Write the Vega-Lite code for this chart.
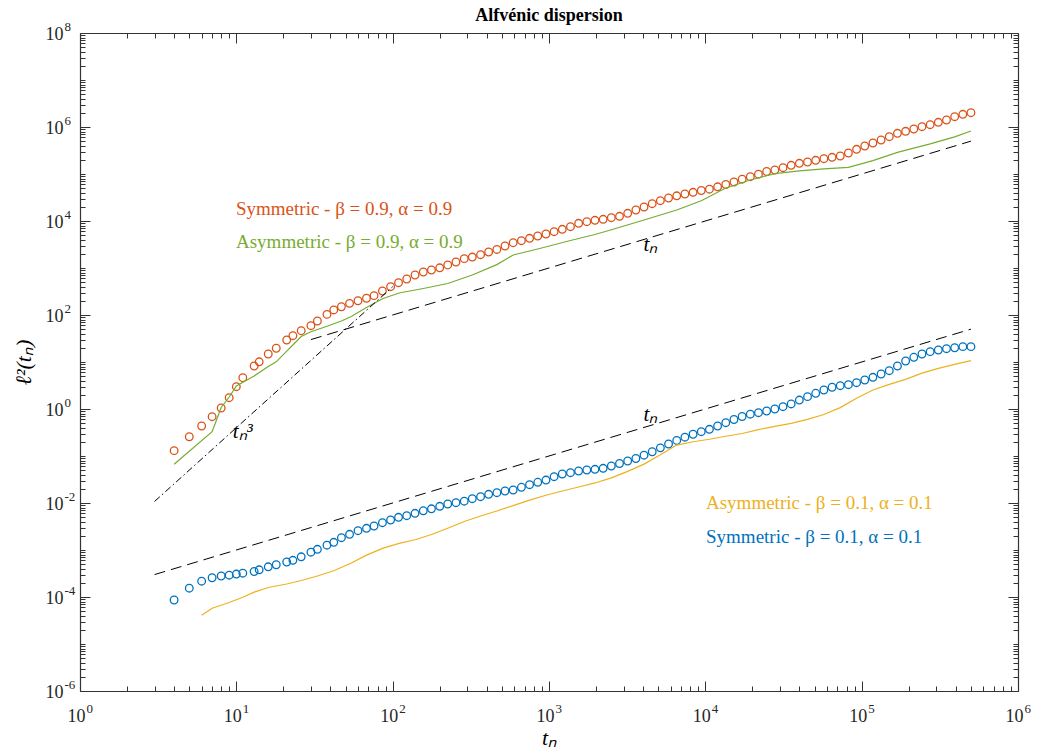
{
  "$schema": "https://vega.github.io/schema/vega-lite/v6.json",
  "width": 938,
  "height": 658,
  "autosize": {"type": "none"},
  "padding": {"left": 80, "top": 33, "right": 28, "bottom": 60},
  "background": "white",
  "title": {"text": "Alfvénic dispersion", "font": "Liberation Serif", "fontSize": 18, "fontWeight": "bold", "color": "#000000", "anchor": "middle", "baseline": "alphabetic", "offset": -19},
  "config": {
    "view": {"stroke": null},
    "axis": {"grid": false, "labelFont": "Liberation Serif", "titleFont": "Liberation Serif", "domainColor": "#333333", "domainWidth": 1.2, "tickColor": "#333333", "tickWidth": 1, "labelColor": "#262626", "titleColor": "#000000", "labelFlush": false, "labelOverlap": false, "labelBound": false}
  },
  "datasets": {
    "sym09": [
      {"t":4,"v":0.130},{"t":5,"v":0.257},{"t":6,"v":0.435},{"t":7,"v":0.686},{"t":8,"v":1.05},{"t":9,"v":1.74},{"t":10,"v":2.98},{"t":11,"v":4.63},{"t":13,"v":8.22},{"t":14,"v":10.1},{"t":16,"v":14.8},{"t":18,"v":19.6},{"t":21,"v":29.4},{"t":23,"v":36.3},{"t":26,"v":46.3},{"t":30,"v":59.2},{"t":33,"v":74.5},{"t":38,"v":103},{"t":42,"v":128},{"t":47,"v":150},{"t":53,"v":177},{"t":60,"v":201},{"t":68,"v":227},{"t":76,"v":258},{"t":86,"v":324},{"t":97,"v":400},{"t":109,"v":487},{"t":123,"v":583},{"t":139,"v":710},{"t":157,"v":822},{"t":177,"v":906},{"t":200,"v":1010},{"t":225,"v":1160},{"t":254,"v":1340},{"t":287,"v":1580},{"t":323,"v":1710},{"t":365,"v":1920},{"t":411,"v":2190},{"t":464,"v":2480},{"t":523,"v":2940},{"t":590,"v":3450},{"t":666,"v":3810},{"t":751,"v":4280},{"t":847,"v":4800},{"t":956,"v":5290},{"t":1078,"v":5920},{"t":1216,"v":6660},{"t":1372,"v":7570},{"t":1547,"v":8930},{"t":1745,"v":9660},{"t":1968,"v":10350},{"t":2220,"v":10870},{"t":2504,"v":11750},{"t":2825,"v":12590},{"t":3186,"v":14590},{"t":3594,"v":17140},{"t":4054,"v":19860},{"t":4572,"v":23350},{"t":5157,"v":27040},{"t":5817,"v":30850},{"t":6562,"v":34360},{"t":7401,"v":37500},{"t":8348,"v":40820},{"t":9417,"v":44570},{"t":10621,"v":47530},{"t":11980,"v":53450},{"t":13513,"v":59840},{"t":15242,"v":67610},{"t":17193,"v":77480},{"t":19393,"v":87660},{"t":21874,"v":99080},{"t":24673,"v":113000},{"t":27830,"v":121600},{"t":31392,"v":136100},{"t":35408,"v":153100},{"t":39939,"v":169000},{"t":45049,"v":179900},{"t":50813,"v":195600},{"t":57315,"v":211700},{"t":64648,"v":226600},{"t":72920,"v":241500},{"t":82250,"v":279900},{"t":92774,"v":335600},{"t":104645,"v":394300},{"t":118034,"v":457000},{"t":133137,"v":528600},{"t":150171,"v":622000},{"t":169386,"v":734400},{"t":191059,"v":810400},{"t":215505,"v":906000},{"t":243080,"v":1014000},{"t":274182,"v":1119000},{"t":309264,"v":1259000},{"t":348835,"v":1409000},{"t":393469,"v":1656000},{"t":443814,"v":1862000},{"t":500000,"v":2014000}
    ],
    "asym09": [
      {"t":4,"v":0.0666},{"t":7,"v":0.329},{"t":8,"v":1.08},{"t":9,"v":1.80},{"t":10,"v":3.09},{"t":13,"v":5.04},{"t":16,"v":8.0},{"t":18,"v":10.1},{"t":21,"v":17.1},{"t":23,"v":23.0},{"t":26,"v":34.9},{"t":30,"v":44.1},{"t":38,"v":57.5},{"t":47,"v":74.5},{"t":54,"v":92.0},{"t":68,"v":144},{"t":86,"v":222},{"t":110,"v":294},{"t":157,"v":366},{"t":225,"v":468},{"t":323,"v":710},{"t":464,"v":1180},{"t":590,"v":1890},{"t":847,"v":2540},{"t":1372,"v":3850},{"t":1968,"v":5160},{"t":2504,"v":6500},{"t":4054,"v":10500},{"t":6562,"v":17140},{"t":9417,"v":27040},{"t":13513,"v":50350},{"t":19393,"v":74500},{"t":27830,"v":101500},{"t":39939,"v":117000},{"t":57315,"v":128500},{"t":82250,"v":138900},{"t":118034,"v":192800},{"t":169386,"v":288400},{"t":215505,"v":354000},{"t":274182,"v":436900},{"t":393469,"v":618600},{"t":500000,"v":822000}
    ],
    "sym01": [
      {"t":4,"v":8.63e-5},{"t":5,"v":1.54e-4},{"t":6,"v":2.17e-4},{"t":7,"v":2.57e-4},{"t":8,"v":2.80e-4},{"t":9,"v":2.91e-4},{"t":10,"v":3.08e-4},{"t":11,"v":3.21e-4},{"t":13,"v":3.49e-4},{"t":14,"v":3.79e-4},{"t":16,"v":4.39e-4},{"t":18,"v":4.86e-4},{"t":21,"v":5.56e-4},{"t":23,"v":6.04e-4},{"t":26,"v":7.16e-4},{"t":30,"v":8.98e-4},{"t":33,"v":1.035e-3},{"t":38,"v":1.265e-3},{"t":42,"v":1.459e-3},{"t":47,"v":1.827e-3},{"t":53,"v":2.158e-3},{"t":60,"v":2.576e-3},{"t":68,"v":2.897e-3},{"t":76,"v":3.24e-3},{"t":86,"v":3.81e-3},{"t":97,"v":4.35e-3},{"t":109,"v":4.96e-3},{"t":123,"v":5.37e-3},{"t":139,"v":6.04e-3},{"t":157,"v":6.83e-3},{"t":177,"v":7.53e-3},{"t":200,"v":8.51e-3},{"t":225,"v":9.52e-3},{"t":254,"v":1.015e-2},{"t":287,"v":1.092e-2},{"t":323,"v":1.234e-2},{"t":365,"v":1.362e-2},{"t":411,"v":1.531e-2},{"t":464,"v":1.656e-2},{"t":523,"v":1.80e-2},{"t":590,"v":1.89e-2},{"t":666,"v":2.16e-2},{"t":751,"v":2.45e-2},{"t":847,"v":2.76e-2},{"t":956,"v":3.08e-2},{"t":1078,"v":3.63e-2},{"t":1216,"v":4.14e-2},{"t":1372,"v":4.41e-2},{"t":1547,"v":4.80e-2},{"t":1745,"v":5.04e-2},{"t":1968,"v":5.21e-2},{"t":2220,"v":5.47e-2},{"t":2504,"v":6.12e-2},{"t":2825,"v":6.92e-2},{"t":3186,"v":7.83e-2},{"t":3594,"v":8.85e-2},{"t":4054,"v":0.104},{"t":4572,"v":0.123},{"t":5157,"v":0.149},{"t":5817,"v":0.180},{"t":6562,"v":0.214},{"t":7401,"v":0.251},{"t":8348,"v":0.290},{"t":9417,"v":0.329},{"t":10621,"v":0.370},{"t":11980,"v":0.435},{"t":13513,"v":0.511},{"t":15242,"v":0.598},{"t":17193,"v":0.692},{"t":19393,"v":0.775},{"t":21874,"v":0.834},{"t":24673,"v":0.906},{"t":27830,"v":1.00},{"t":31392,"v":1.12},{"t":35408,"v":1.28},{"t":39939,"v":1.55},{"t":45049,"v":1.83},{"t":50813,"v":2.16},{"t":57315,"v":2.54},{"t":64648,"v":2.90},{"t":72920,"v":3.13},{"t":82250,"v":3.29},{"t":92774,"v":3.63},{"t":104645,"v":4.14},{"t":118034,"v":4.72},{"t":133137,"v":5.56},{"t":150171,"v":6.53},{"t":169386,"v":8.22},{"t":191059,"v":10.5},{"t":215505,"v":12.6},{"t":243080,"v":14.8},{"t":274182,"v":16.6},{"t":309264,"v":18.0},{"t":348835,"v":19.2},{"t":393469,"v":20.1},{"t":443814,"v":21.2},{"t":500000,"v":21.2}
    ],
    "asym01": [
      {"t":6,"v":4.10e-5},{"t":7,"v":5.75e-5},{"t":9,"v":7.64e-5},{"t":11,"v":9.86e-5},{"t":13,"v":1.27e-4},{"t":16,"v":1.59e-4},{"t":21,"v":1.89e-4},{"t":26,"v":2.24e-4},{"t":33,"v":2.80e-4},{"t":42,"v":3.61e-4},{"t":54,"v":5.21e-4},{"t":68,"v":7.79e-4},{"t":87,"v":1.097e-3},{"t":110,"v":1.38e-3},{"t":141,"v":1.67e-3},{"t":179,"v":2.16e-3},{"t":229,"v":2.98e-3},{"t":290,"v":4.08e-3},{"t":365,"v":5.29e-3},{"t":464,"v":6.76e-3},{"t":590,"v":8.81e-3},{"t":751,"v":1.153e-2},{"t":956,"v":1.46e-2},{"t":1216,"v":1.80e-2},{"t":1547,"v":2.19e-2},{"t":1968,"v":2.67e-2},{"t":2504,"v":3.42e-2},{"t":3186,"v":4.70e-2},{"t":4054,"v":6.72e-2},{"t":5157,"v":0.1066},{"t":6562,"v":0.171},{"t":8348,"v":0.201},{"t":10621,"v":0.227},{"t":13513,"v":0.263},{"t":17193,"v":0.301},{"t":21874,"v":0.365},{"t":27830,"v":0.426},{"t":35408,"v":0.496},{"t":45049,"v":0.601},{"t":57315,"v":0.764},{"t":72920,"v":1.07},{"t":92774,"v":1.69},{"t":118034,"v":2.54},{"t":150171,"v":3.34},{"t":191059,"v":4.28},{"t":243080,"v":5.81},{"t":309264,"v":7.31},{"t":393469,"v":8.93},{"t":500000,"v":10.7}
    ],
    "dashed": [
      {"line":"lower","t":3,"v":3e-4},{"line":"lower","t":500000,"v":50},
      {"line":"upper","t":30,"v":30},{"line":"upper","t":500000,"v":500000}
    ],
    "dashdot": [
      {"t":3,"v":0.0108},{"t":100,"v":400}
    ],
    "legend": [
      {"t":9.95,"v":17990,"text":"Symmetric - β = 0.9, α = 0.9","series":"sym09"},
      {"t":9.95,"v":3660,"text":"Asymmetric - β = 0.9, α = 0.9","series":"asym09"},
      {"t":10100,"v":0.00976,"text":"Asymmetric - β = 0.1, α = 0.1","series":"asym01"},
      {"t":10100,"v":0.00189,"text":"Symmetric - β = 0.1, α = 0.1","series":"sym01"}
    ],
    "refLabels": [
      {"t":4450,"v":3085,"text":"tₙ"},
      {"t":4450,"v":0.745,"text":"tₙ"},
      {"t":11.0,"v":0.324,"text":"tₙ³"}
    ]
  },
  "resolve": {"axis": {"x": "independent", "y": "independent"}},
  "layer": [
    {
      "data": {"name": "sym09"},
      "mark": {"type": "point", "shape": "circle", "filled": false, "color": "#D95319", "size": 58, "strokeWidth": 1.3, "opacity": 1},
      "encoding": {
        "x": {"field": "t", "type": "quantitative", "scale": {"type": "log", "domain": [1, 1000000], "nice": false},
          "axis": {"orient": "bottom", "values": [1, 10, 100, 1000, 10000, 100000, 1000000], "labelExpr": "'10'", "tickSize": -10, "labelPadding": 40.5, "labelBaseline": "alphabetic", "labelAlign": "center", "labelOffset": -4, "labelFontSize": 18, "title": "tₙ", "titleFontSize": 22, "titleFontStyle": "italic", "titleFontWeight": "normal", "titleX": 469, "titleY": 53, "titleBaseline": "alphabetic", "titleAlign": "center", "titleAnchor": null}},
        "y": {"field": "v", "type": "quantitative", "scale": {"type": "log", "domain": [0.000001, 100000000], "nice": false},
          "axis": {"orient": "left", "values": [0.000001, 0.0001, 0.01, 1, 100, 10000, 1000000, 100000000], "labelExpr": "'10'", "tickSize": -10, "labelPadding": 27, "labelAlign": "right", "labelBaseline": "middle", "labelOffset": 1, "labelFontSize": 18, "title": "ℓ²(tₙ)", "titleFontSize": 22, "titleFontStyle": "italic", "titleFontWeight": "normal", "titleAngle": -90, "titleX": -50, "titleY": 329, "titleBaseline": "alphabetic", "titleAlign": "center"}}
      }
    },
    {
      "data": {"name": "asym09"},
      "mark": {"type": "line", "color": "#77AC30", "strokeWidth": 1.2},
      "encoding": {
        "x": {"field": "t", "type": "quantitative", "scale": {"type": "log", "domain": [1, 1000000], "nice": false},
          "axis": {"orient": "top", "values": [1, 10, 100, 1000, 10000, 100000, 1000000], "labels": false, "tickSize": -10, "title": null}},
        "y": {"field": "v", "type": "quantitative", "scale": {"type": "log", "domain": [0.000001, 100000000], "nice": false},
          "axis": {"orient": "right", "values": [0.000001, 0.0001, 0.01, 1, 100, 10000, 1000000, 100000000], "labels": false, "tickSize": -10, "title": null}}
      }
    },
    {
      "data": {"name": "sym01"},
      "mark": {"type": "point", "shape": "circle", "filled": false, "color": "#0072BD", "size": 58, "strokeWidth": 1.3, "opacity": 1},
      "encoding": {
        "x": {"field": "t", "type": "quantitative", "scale": {"type": "log", "domain": [1, 1000000], "nice": false},
          "axis": {"orient": "bottom", "values": [2,3,4,5,6,7,8,9,20,30,40,50,60,70,80,90,200,300,400,500,600,700,800,900,2000,3000,4000,5000,6000,7000,8000,9000,20000,30000,40000,50000,60000,70000,80000,90000,200000,300000,400000,500000,600000,700000,800000,900000], "labels": false, "domain": false, "tickSize": -5, "title": null}},
        "y": {"field": "v", "type": "quantitative", "scale": {"type": "log", "domain": [0.000001, 100000000], "nice": false},
          "axis": {"orient": "left", "values": [2e-6,3e-6,4e-6,5e-6,6e-6,7e-6,8e-6,9e-6,1e-5,2e-5,3e-5,4e-5,5e-5,6e-5,7e-5,8e-5,9e-5,2e-4,3e-4,4e-4,5e-4,6e-4,7e-4,8e-4,9e-4,1e-3,2e-3,3e-3,4e-3,5e-3,6e-3,7e-3,8e-3,9e-3,0.02,0.03,0.04,0.05,0.06,0.07,0.08,0.09,0.1,0.2,0.3,0.4,0.5,0.6,0.7,0.8,0.9,2,3,4,5,6,7,8,9,10,20,30,40,50,60,70,80,90,200,300,400,500,600,700,800,900,1000,2000,3000,4000,5000,6000,7000,8000,9000,20000,30000,40000,50000,60000,70000,80000,90000,100000,200000,300000,400000,500000,600000,700000,800000,900000,2000000,3000000,4000000,5000000,6000000,7000000,8000000,9000000,10000000,20000000,30000000,40000000,50000000,60000000,70000000,80000000,90000000], "labels": false, "domain": false, "tickSize": -5, "title": null}}
      }
    },
    {
      "data": {"name": "asym01"},
      "mark": {"type": "line", "color": "#EDB120", "strokeWidth": 1.2},
      "encoding": {
        "x": {"field": "t", "type": "quantitative", "scale": {"type": "log", "domain": [1, 1000000], "nice": false},
          "axis": {"orient": "top", "values": [2,3,4,5,6,7,8,9,20,30,40,50,60,70,80,90,200,300,400,500,600,700,800,900,2000,3000,4000,5000,6000,7000,8000,9000,20000,30000,40000,50000,60000,70000,80000,90000,200000,300000,400000,500000,600000,700000,800000,900000], "labels": false, "domain": false, "tickSize": -5, "title": null}},
        "y": {"field": "v", "type": "quantitative", "scale": {"type": "log", "domain": [0.000001, 100000000], "nice": false},
          "axis": {"orient": "right", "values": [2e-6,3e-6,4e-6,5e-6,6e-6,7e-6,8e-6,9e-6,1e-5,2e-5,3e-5,4e-5,5e-5,6e-5,7e-5,8e-5,9e-5,2e-4,3e-4,4e-4,5e-4,6e-4,7e-4,8e-4,9e-4,1e-3,2e-3,3e-3,4e-3,5e-3,6e-3,7e-3,8e-3,9e-3,0.02,0.03,0.04,0.05,0.06,0.07,0.08,0.09,0.1,0.2,0.3,0.4,0.5,0.6,0.7,0.8,0.9,2,3,4,5,6,7,8,9,10,20,30,40,50,60,70,80,90,200,300,400,500,600,700,800,900,1000,2000,3000,4000,5000,6000,7000,8000,9000,20000,30000,40000,50000,60000,70000,80000,90000,100000,200000,300000,400000,500000,600000,700000,800000,900000,2000000,3000000,4000000,5000000,6000000,7000000,8000000,9000000,10000000,20000000,30000000,40000000,50000000,60000000,70000000,80000000,90000000], "labels": false, "domain": false, "tickSize": -5, "title": null}}
      }
    },
    {
      "data": {"name": "dashed"},
      "mark": {"type": "line", "color": "#000000", "strokeWidth": 1, "strokeDash": [11, 6]},
      "encoding": {
        "detail": {"field": "line", "type": "nominal"},
        "x": {"field": "t", "type": "quantitative", "scale": {"type": "log", "domain": [1, 1000000], "nice": false},
          "axis": {"orient": "bottom", "values": [1, 10, 100, 1000, 10000, 100000, 1000000], "labelExpr": "'' + round(log(datum.value) / LN10)", "tickSize": -10, "tickOpacity": 0, "domain": false, "labelPadding": 31, "labelBaseline": "alphabetic", "labelAlign": "left", "labelOffset": 6, "labelFontSize": 13, "title": null}},
        "y": {"field": "v", "type": "quantitative", "scale": {"type": "log", "domain": [0.000001, 100000000], "nice": false},
          "axis": {"orient": "left", "values": [0.000001, 0.0001, 0.01, 1, 100, 10000, 1000000, 100000000], "labelExpr": "'' + round(log(datum.value) / LN10)", "tickSize": -10, "tickOpacity": 0, "domain": false, "labelPadding": 26, "labelAlign": "left", "labelBaseline": "middle", "labelOffset": -7, "labelFontSize": 13, "title": null}}
      }
    },
    {
      "data": {"name": "dashdot"},
      "mark": {"type": "line", "color": "#000000", "strokeWidth": 1, "strokeDash": [7, 3, 1.5, 3]},
      "encoding": {
        "x": {"field": "t", "type": "quantitative", "scale": {"type": "log", "domain": [1, 1000000], "nice": false}, "axis": null},
        "y": {"field": "v", "type": "quantitative", "scale": {"type": "log", "domain": [0.000001, 100000000], "nice": false}, "axis": null}
      }
    },
    {
      "data": {"name": "legend"},
      "mark": {"type": "text", "align": "left", "baseline": "middle", "font": "Liberation Serif", "fontSize": 19},
      "encoding": {
        "x": {"field": "t", "type": "quantitative", "scale": {"type": "log", "domain": [1, 1000000], "nice": false}, "axis": null},
        "y": {"field": "v", "type": "quantitative", "scale": {"type": "log", "domain": [0.000001, 100000000], "nice": false}, "axis": null},
        "text": {"field": "text"},
        "color": {"field": "series", "type": "nominal", "scale": {"domain": ["sym09", "asym09", "asym01", "sym01"], "range": ["#D95319", "#77AC30", "#EDB120", "#0072BD"]}, "legend": null}
      }
    },
    {
      "data": {"name": "refLabels"},
      "mark": {"type": "text", "align": "center", "baseline": "middle", "font": "Liberation Serif", "fontSize": 21, "fontStyle": "italic", "color": "#000000"},
      "encoding": {
        "x": {"field": "t", "type": "quantitative", "scale": {"type": "log", "domain": [1, 1000000], "nice": false}, "axis": null},
        "y": {"field": "v", "type": "quantitative", "scale": {"type": "log", "domain": [0.000001, 100000000], "nice": false}, "axis": null},
        "text": {"field": "text"}
      }
    }
  ]
}
